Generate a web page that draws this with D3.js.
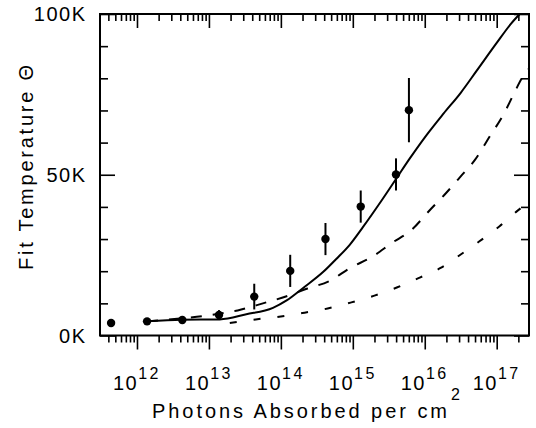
<!DOCTYPE html>
<html>
<head>
<meta charset="utf-8">
<script src="https://cdn.jsdelivr.net/npm/d3@7"></script>
<style>
body { margin: 0; background: #fff; }
text { font-family: "Liberation Sans", Arial, sans-serif; fill: #000; }
</style>
</head>
<body>
<svg id="chart" width="536" height="428"></svg>
<script>
// measured points: log10(photons per cm^2), fit temperature (thousands K), error bar
var ptLog  = [11.64, 12.14, 12.63, 13.14, 13.63, 14.13, 14.62, 15.11, 15.60, 15.78];
var ptTemp = [3.9, 4.4, 4.8, 6.4, 12.1, 20.1, 30.0, 40.1, 50.1, 70.1];
var ptErr  = [0, 0, 0, 1.5, 4, 5, 5, 5, 5, 10];

// model curves
var solidLog  = [12.14, 12.62, 13.15, 13.52, 13.89, 14.08, 14.31, 14.59, 14.77, 14.96, 15.14, 15.40, 15.61, 15.79, 16.03, 16.26, 16.50, 16.72, 17.0, 17.2, 17.32];
var solidTemp = [4.4, 4.9, 5.0, 6.6, 8.6, 10.9, 14.8, 19.8, 23.8, 28.3, 33.7, 42.0, 49.0, 55.0, 62.5, 69.0, 75.5, 82.3, 91.0, 97.0, 100];

var longLog  = [12.14, 12.6, 13.0, 13.4, 13.75, 14.08, 14.37, 14.67, 14.97, 15.27, 15.55, 15.82, 16.05, 16.3, 16.5, 16.7, 16.9, 17.1, 17.23, 17.35, 17.449];
var longTemp = [4.4, 5.3, 6.3, 7.8, 10.0, 12.2, 14.6, 16.9, 21.1, 24.5, 28.9, 32.9, 38.5, 44.4, 49.5, 54.7, 61.8, 69.0, 74.8, 80.0, 83.0];

var shortLog  = [13.29, 13.65, 14.0, 14.33, 14.65, 14.98, 15.3, 15.62, 15.93, 16.22, 16.5, 16.76, 17.04, 17.3, 17.449];
var shortTemp = [3.9, 5.0, 5.9, 7.1, 8.4, 10.3, 12.4, 15.0, 18.0, 21.0, 25.2, 29.3, 34.0, 39.0, 41.5];

var xTickExps = [12, 13, 14, 15, 16, 17];
var yTickVals = [0, 50, 100];
var yTickLabels = ["0K", "50K", "100K"];

var svg = d3.select("#chart");
var pLeft = 100, pRight = 529, pTop = 14, pBottom = 335.5;

var x = d3.scaleLog()
    .domain([Math.pow(10, 11.486), Math.pow(10, 17.449)])
    .range([pLeft, pRight]);
var y = d3.scaleLinear().domain([0, 100]).range([pBottom, pTop]);

function isMajor(d) {
  var l = Math.log10(d);
  return Math.abs(l - Math.round(l)) < 1e-6;
}

var xt = x.ticks();

// axes (ticks only, frame drawn separately)
var gb = svg.append("g").attr("transform", "translate(0," + pBottom + ")")
    .call(d3.axisBottom(x).tickValues(xt).tickFormat(""));
gb.selectAll(".tick line").attr("y2", d => isMajor(d) ? 14 : 7);

var gt = svg.append("g").attr("transform", "translate(0," + pTop + ")")
    .call(d3.axisTop(x).tickValues(xt).tickFormat(""));
gt.selectAll(".tick line").attr("y2", d => isMajor(d) ? 14 : 7);

var yt = y.ticks(10);
var gl = svg.append("g").attr("transform", "translate(" + pLeft + ",0)")
    .call(d3.axisLeft(y).tickValues(yt).tickFormat(""));
gl.selectAll(".tick line").attr("x2", d => d % 50 == 0 ? 15 : 8);

var gr = svg.append("g").attr("transform", "translate(" + pRight + ",0)")
    .call(d3.axisRight(y).tickValues(yt).tickFormat(""));
gr.selectAll(".tick line").attr("x2", d => d % 50 == 0 ? -15 : -8);

svg.selectAll(".domain").remove();
svg.selectAll(".tick line").attr("stroke", "#000").attr("stroke-width", 1.6);

svg.append("rect")
    .attr("x", pLeft).attr("y", pTop)
    .attr("width", pRight - pLeft).attr("height", pBottom - pTop)
    .attr("fill", "none").attr("stroke", "#000").attr("stroke-width", 2);

// tick labels
svg.selectAll("text.ylab").data(yTickVals).enter().append("text")
    .attr("class", "ylab")
    .attr("x", 86.5)
    .attr("y", d => y(d))
    .attr("dy", "0.35em")
    .attr("text-anchor", "end")
    .style("font-size", "20px")
    .style("letter-spacing", "1.5px")
    .text((d, i) => yTickLabels[i]);

var xl = svg.selectAll("text.xlab").data(xTickExps).enter().append("text")
    .attr("class", "xlab")
    .attr("x", d => x(Math.pow(10, d)))
    .attr("y", 390)
    .attr("text-anchor", "middle");
xl.append("tspan").style("font-size", "20px").style("letter-spacing", "1.5px").text("10");
xl.append("tspan").attr("dy", -11).style("font-size", "16px").style("letter-spacing", "2.5px").text(d => d);

// axis titles
svg.append("text")
    .attr("x", 152).attr("y", 418)
    .attr("textLength", 295).attr("lengthAdjust", "spacing")
    .style("font-size", "20px")
    .text("Photons Absorbed per cm");
svg.append("text")
    .attr("x", 451).attr("y", 400)
    .style("font-size", "16px")
    .text("2");

svg.append("text")
    .attr("transform", "translate(33,270) rotate(-90)")
    .attr("textLength", 205).attr("lengthAdjust", "spacing")
    .style("font-size", "20px")
    .text("Fit Temperature \u0398");

// curves
var line = d3.line()
    .x(d => x(Math.pow(10, d[0])))
    .y(d => y(d[1]))
    .curve(d3.curveMonotoneX);

function drawCurve(logs, temps, dash) {
  svg.append("path")
    .datum(d3.zip(logs, temps))
    .attr("d", line)
    .attr("fill", "none")
    .attr("stroke", "#000")
    .attr("stroke-width", 2)
    .attr("stroke-dasharray", dash);
}
drawCurve(shortLog, shortTemp, "7,17");
drawCurve(longLog, longTemp, "11,11");
drawCurve(solidLog, solidTemp, null);

// data points with error bars
var pts = d3.range(ptLog.length);
svg.selectAll("line.err").data(pts.filter(i => ptErr[i] > 0)).enter().append("line")
    .attr("class", "err")
    .attr("x1", i => x(Math.pow(10, ptLog[i])))
    .attr("x2", i => x(Math.pow(10, ptLog[i])))
    .attr("y1", i => y(ptTemp[i] - ptErr[i]))
    .attr("y2", i => y(ptTemp[i] + ptErr[i]))
    .attr("stroke", "#000")
    .attr("stroke-width", 2);

svg.selectAll("circle.pt").data(pts).enter().append("circle")
    .attr("class", "pt")
    .attr("cx", i => x(Math.pow(10, ptLog[i])))
    .attr("cy", i => y(ptTemp[i]))
    .attr("r", 4.2)
    .attr("fill", "#000");
</script>
</body>
</html>
